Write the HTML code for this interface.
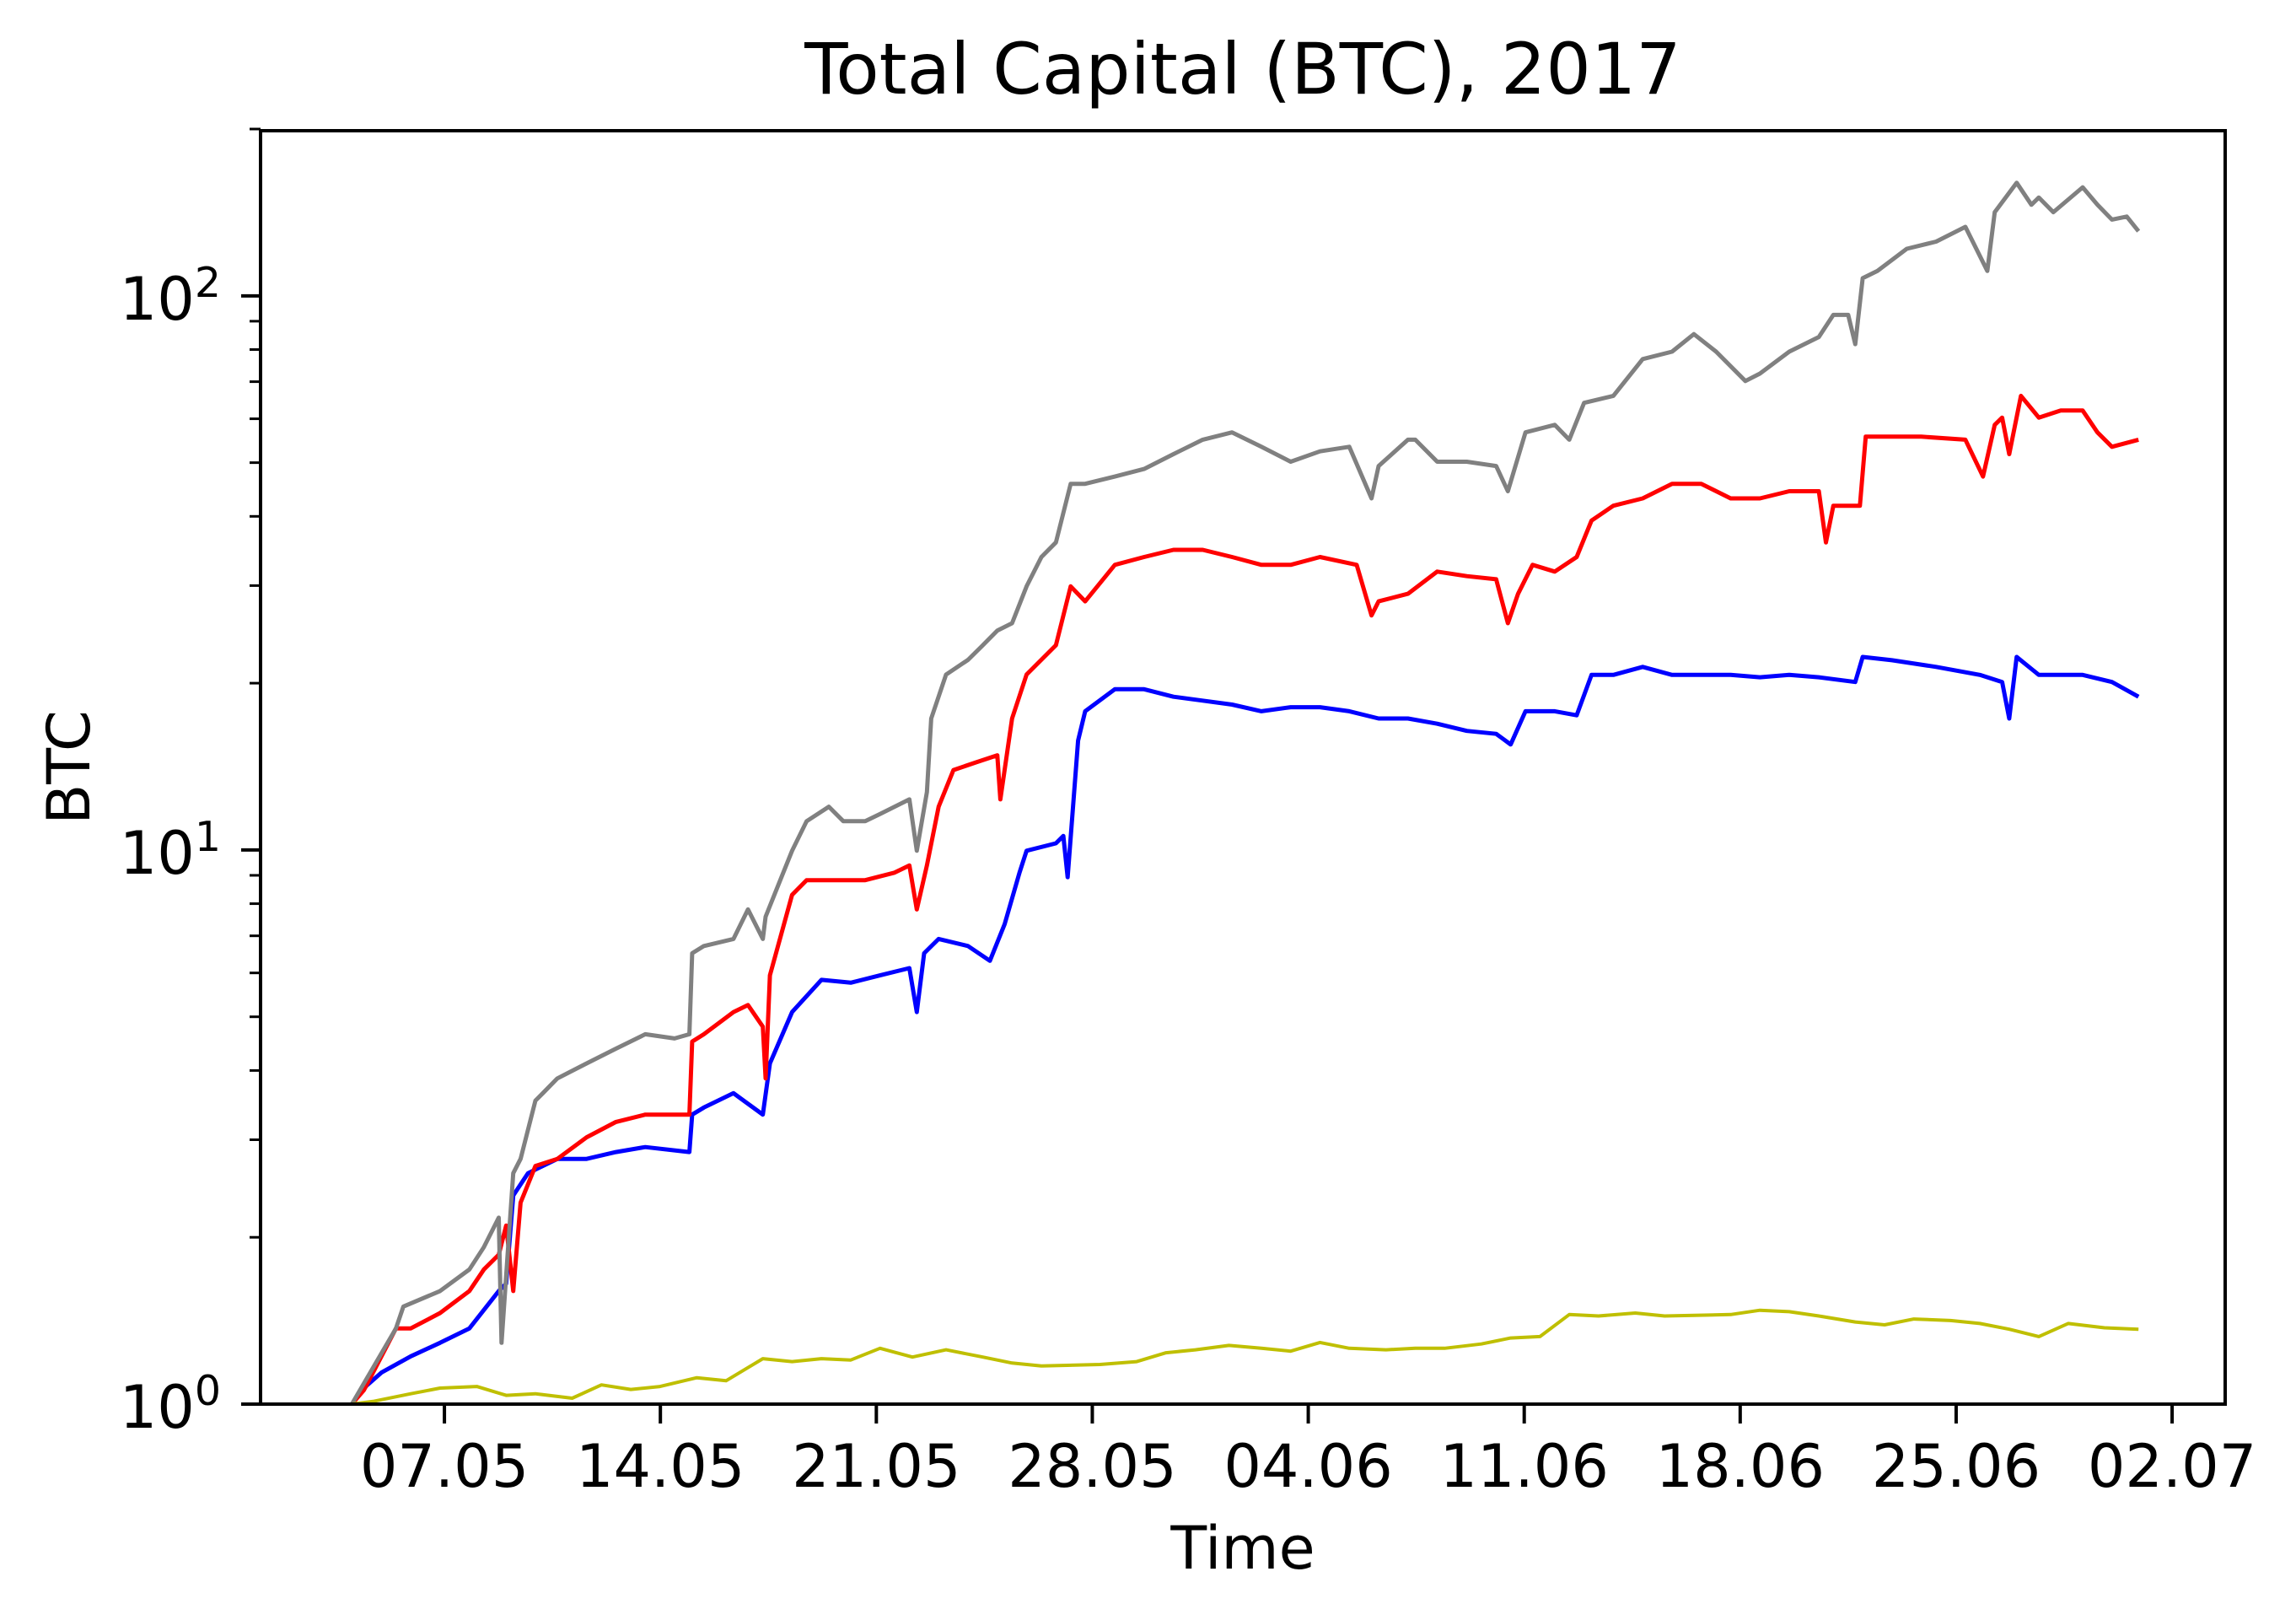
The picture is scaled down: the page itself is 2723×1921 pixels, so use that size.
<!DOCTYPE html>
<html><head><meta charset="utf-8"><style>
html,body{margin:0;padding:0;background:#fff;}
svg{display:block;font-family:"DejaVu Sans","Liberation Sans",sans-serif;}
</style></head><body>
<svg id="chart" width="2723" height="1921" viewBox="0 0 2723 1921" xmlns="http://www.w3.org/2000/svg">
<rect x="0" y="0" width="2723" height="1921" fill="#fff"/>
<text x="1474" y="111" font-size="84" text-anchor="middle">Total Capital (BTC), 2017</text>
<text x="1474" y="1860" font-size="70" text-anchor="middle">Time</text>
<text x="0" y="0" font-size="70" text-anchor="middle" transform="translate(106,910) rotate(-90)">BTC</text>
<g id="series"></g>
<g id="axes"></g>
</svg>
<script>
// x = days since 07.05.2017; y = BTC
const xTickDays = [0,7,14,21,28,35,42,49,56];
const xTickLabels = ["07.05","14.05","21.05","28.05","04.06","11.06","18.06","25.06","02.07"];
const yMajorExp = [0,1,2];

const grayDays = [-3,-1.57,-1.33,-0.14,0.81,1.28,1.76,1.85,2.23,2.47,2.95,3.19,3.66,4.61,5.56,6.51,7.46,7.94,8.03,8.41,9.37,9.84,10.32,10.41,10.79,11.27,11.74,12.46,12.93,13.64,14.12,15.07,15.31,15.64,15.78,16.26,16.97,17.45,17.92,18.4,18.87,19.35,19.82,20.3,20.77,21.73,22.68,23.63,24.58,25.53,26.48,27.43,28.38,29.33,30.05,30.28,31.23,31.47,32.18,33.14,34.09,34.47,35.04,35.99,36.46,36.94,37.89,38.84,39.79,40.5,41.22,42.17,42.64,43.59,44.55,45.02,45.5,45.73,45.97,46.45,47.4,48.35,49.3,50.01,50.25,50.96,51.44,51.68,52.15,53.1,53.58,54.05,54.53,54.91];
const grayVals = [1.0,1.37,1.50,1.60,1.75,1.92,2.17,1.29,2.61,2.77,3.53,3.64,3.87,4.12,4.38,4.65,4.57,4.65,6.51,6.71,6.91,7.81,6.91,7.58,8.56,9.97,11.27,11.97,11.27,11.27,11.61,12.34,9.97,12.72,17.27,20.73,22.03,23.42,24.89,25.66,29.9,33.78,35.9,45.8,45.8,47.2,48.7,51.8,55.0,56.7,53.4,50.2,52.4,53.4,43.1,49.3,55.0,55.0,50.2,50.2,49.3,44.4,56.7,58.5,55.0,64.1,66.0,76.9,79.3,85.3,79.3,70.2,72.4,79.3,84.3,92.4,92.4,81.8,107.6,110.9,121.6,125.3,133.2,110.9,141.6,160,146,150.5,141.6,157,146,137.3,139,130.8];

const redDays = [-3,-2.61,-2.04,-1.57,-1.09,-0.14,0.81,1.28,1.76,2.0,2.23,2.47,2.95,3.66,4.61,5.56,6.51,7.94,8.03,8.41,9.37,9.84,10.32,10.41,10.55,11.27,11.74,12.69,13.64,14.59,15.07,15.31,15.64,16.02,16.5,17.21,17.92,18.02,18.4,18.87,19.82,20.3,20.77,21.73,22.68,23.63,24.58,25.53,26.48,27.43,28.38,29.57,30.05,30.28,31.23,32.18,33.14,34.09,34.47,34.8,35.27,35.99,36.7,37.18,37.89,38.84,39.79,40.74,41.69,42.64,43.59,44.55,44.78,45.02,45.88,46.07,46.92,47.87,49.3,49.87,50.25,50.49,50.72,51.1,51.68,52.39,53.1,53.58,54.05,54.91];
const redVals = [1.0,1.06,1.22,1.37,1.37,1.46,1.60,1.75,1.86,2.10,1.60,2.31,2.69,2.77,3.03,3.23,3.33,3.33,4.51,4.65,5.10,5.25,4.80,3.87,5.94,8.30,8.82,8.82,8.82,9.10,9.38,7.81,9.38,11.97,13.94,14.38,14.82,12.34,17.27,20.73,23.42,29.9,28.1,32.7,33.78,34.8,34.8,33.78,32.7,32.7,33.78,32.7,26.5,28.1,29.0,31.8,31.2,30.8,25.66,29.0,32.7,31.8,33.78,39.3,41.8,43.1,45.8,45.8,43.1,43.1,44.4,44.4,35.9,41.8,41.8,55.7,55.7,55.7,55.0,47.2,58.5,60.3,51.8,66.0,60.3,62.1,62.1,56.7,53.4,55.0];

const blueDays = [-3,-2.52,-2.04,-1.09,-0.14,0.81,1.76,2.0,2.23,2.71,3.66,4.61,5.56,6.51,7.94,8.03,8.41,9.37,10.32,10.55,11.27,12.22,13.17,14.12,15.07,15.31,15.55,16.02,16.97,17.68,18.16,18.64,18.87,19.82,20.06,20.2,20.54,20.77,21.73,22.68,23.63,24.58,25.53,26.48,27.43,28.38,29.33,30.28,31.23,32.18,33.14,34.09,34.56,35.04,35.99,36.7,37.18,37.89,38.84,39.79,40.74,41.69,42.64,43.59,44.55,45.73,45.97,46.92,48.35,49.77,50.49,50.72,50.96,51.68,53.1,54.05,54.91];
const blueVals = [1.0,1.08,1.14,1.22,1.29,1.37,1.60,1.65,2.38,2.61,2.77,2.77,2.85,2.91,2.85,3.33,3.43,3.64,3.33,4.12,5.10,5.83,5.76,5.94,6.12,5.10,6.51,6.91,6.71,6.31,7.35,9.10,9.97,10.28,10.6,8.93,15.76,17.8,19.5,19.5,18.9,18.6,18.3,17.8,18.1,18.1,17.8,17.27,17.27,16.9,16.4,16.2,15.5,17.8,17.8,17.5,20.7,20.7,21.4,20.7,20.7,20.7,20.5,20.7,20.5,20.1,22.3,22.0,21.4,20.7,20.1,17.27,22.3,20.7,20.7,20.1,18.9];

const yellowDays = [-3,-2.28,-1.09,-0.14,1.05,2.0,2.95,4.14,5.09,6.04,6.99,8.18,9.13,10.32,11.27,12.22,13.17,14.12,15.17,16.26,17.45,18.4,19.35,21.25,22.44,23.39,24.34,25.43,26.48,27.43,28.38,29.33,30.52,31.47,32.42,33.61,34.56,35.51,36.46,37.41,38.6,39.55,41.69,42.64,43.59,44.55,45.73,46.68,47.63,48.82,49.77,50.72,51.68,52.63,53.81,54.91];
const yellowVals = [1.0,1.012,1.044,1.069,1.076,1.037,1.044,1.025,1.083,1.063,1.076,1.116,1.102,1.208,1.193,1.208,1.201,1.261,1.216,1.253,1.216,1.186,1.172,1.179,1.193,1.238,1.253,1.276,1.261,1.246,1.292,1.261,1.253,1.261,1.261,1.284,1.316,1.324,1.451,1.442,1.460,1.442,1.451,1.477,1.468,1.442,1.407,1.390,1.424,1.415,1.398,1.365,1.324,1.398,1.373,1.365];

const L=309,R=2639,T=155,B=1665;
const X0=-5.96,X1=57.72, Y0=0, Y1=2.298;
function xs(d){return L+(d-X0)/(X1-X0)*(R-L);}
function ys(v){return B-(Math.log10(v)-Y0)/(Y1-Y0)*(B-T);}
const NS="http://www.w3.org/2000/svg";
function mk(tag,attrs,parent){const e=document.createElementNS(NS,tag);for(const k in attrs)e.setAttribute(k,attrs[k]);parent.appendChild(e);return e;}

const sg=document.getElementById('series');
const ag=document.getElementById('axes');
function drawLine(days,vals,color,name,w){
  let d='';
  for(let i=0;i<days.length;i++){d+=(i?'L':'M')+xs(days[i]).toFixed(1)+','+ys(vals[i]).toFixed(1);}
  const p=mk('path',{d:d,fill:'none',stroke:color,'stroke-width':w,'stroke-linejoin':'round'},sg);
  
  
}
drawLine(blueDays,blueVals,'#0000ff','series-blue-line',5);
drawLine(redDays,redVals,'#ff0000','series-red-line',5);
drawLine(grayDays,grayVals,'#808080','series-gray-line',5);
drawLine(yellowDays,yellowVals,'#bfbf00','series-yellow-line',4);

const frame=mk('rect',{x:L,y:T,width:R-L,height:B-T,fill:'none',stroke:'#000','stroke-width':4},ag);



for(let i=0;i<xTickDays.length;i++){
  const x=xs(xTickDays[i]);
  const t=mk('line',{x1:x,x2:x,y1:B,y2:B+23,stroke:'#000','stroke-width':4},ag);
  
  
  const lb=mk('text',{x:x,y:1763,'font-size':70,'text-anchor':'middle'},ag);
  lb.textContent=xTickLabels[i];
  
  
}
for(const e of yMajorExp){
  const y=ys(Math.pow(10,e));
  const t=mk('line',{x1:L-23,x2:L,y1:y,y2:y,stroke:'#000','stroke-width':4},ag);
  
  
  const lb=mk('text',{x:262,y:y+28,'font-size':70,'text-anchor':'end'},ag);
  
  
  const a=mk('tspan',{},lb);a.textContent='10';
  const s=mk('tspan',{'font-size':49,dy:-27},lb);s.textContent=String(e);
  for(let m=2;m<=9;m++){
    const v=m*Math.pow(10,e);
    if(Math.log10(v)>Y1+0.005)break;
    const yy=ys(v);
    const mt=mk('line',{x1:L-13,x2:L,y1:yy,y2:yy,stroke:'#000','stroke-width':3},ag);
    
    
  }
}
</script>
</body></html>
